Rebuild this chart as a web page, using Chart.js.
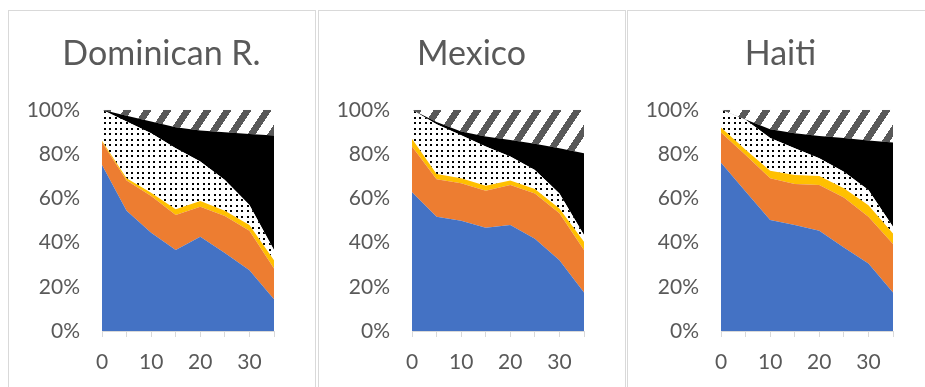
<!DOCTYPE html>
<html>
<head>
<meta charset="utf-8">
<script src="https://cdn.jsdelivr.net/npm/chart.js@4"></script>
<style>
  html, body { margin: 0; padding: 0; background: #fff; overflow: hidden; }
  body { width: 925px; height: 387px; position: relative; }
  .panel {
    position: absolute;
    top: 10px;
    width: 306px;
    height: 400px;
    border: 1px solid #d9d9d9;
    box-sizing: content-box;
  }
  .panel canvas { position: absolute; left: 0; top: 0; }
</style>
</head>
<body>
<div class="panel" style="left:8px"><canvas id="chart-dr" width="305" height="376"></canvas></div>
<div class="panel" style="left:318px"><canvas id="chart-mx" width="305" height="376"></canvas></div>
<div class="panel" style="left:627px"><canvas id="chart-ht" width="305" height="376"></canvas></div>

<script>
// x positions (years) shared by all three panels
const xValues = [0, 5, 10, 15, 20, 25, 30, 35];
const yTicks = [0, 20, 40, 60, 80, 100];

// Dominican R. - share of each group (%)
const drBlue   = [75.0, 54.4, 44.4, 36.6, 42.6, 35.3, 27.5, 14.4];
const drOrange = [10.3, 13.6, 16.6, 15.8, 13.6, 16.7, 17.8, 13.8];
const drYellow = [0.7, 1.0, 1.5, 2.6, 2.6, 2.4, 2.6, 3.8];
const drDots   = [14.0, 25.7, 26.9, 27.6, 17.8, 13.9, 9.1, 4.6];
const drBlack  = [0, 2.6, 5.3, 9.5, 14.0, 21.6, 32.1, 51.8];
const drHatch  = [0, 2.7, 5.3, 7.9, 9.4, 10.1, 10.9, 11.6];

// Mexico
const mxBlue   = [62.7, 51.7, 49.8, 46.7, 47.9, 41.7, 32.0, 17.4];
const mxOrange = [20.7, 16.9, 17.0, 16.7, 18.1, 20.5, 21.2, 19.2];
const mxYellow = [3.5, 2.4, 2.2, 2.3, 2.0, 2.0, 2.2, 3.7];
const mxDots   = [13.1, 22.5, 19.5, 17.7, 10.9, 8.6, 6.8, 3.1];
const mxBlack  = [0, 1.0, 1.7, 4.5, 7.5, 11.8, 20.4, 37.0];
const mxHatch  = [0, 5.5, 9.8, 12.1, 13.6, 15.4, 17.4, 19.6];

// Haiti
const htBlue   = [76.1, 63.1, 50.2, 47.9, 45.3, 37.8, 30.5, 17.4];
const htOrange = [13.6, 16.5, 18.8, 18.6, 20.7, 22.6, 21.2, 21.9];
const htYellow = [2.3, 2.3, 3.5, 4.0, 4.1, 4.1, 5.2, 4.8];
const htDots   = [8.0, 13.6, 14.7, 12.1, 8.0, 7.5, 6.8, 3.0];
const htBlack  = [0, 0.1, 4.0, 6.8, 10.1, 15.2, 22.4, 38.1];
const htHatch  = [0, 4.4, 8.8, 10.6, 11.8, 12.8, 13.9, 14.8];

const TEXT_COLOR = '#595959';
const FONT = 'Lato, "Open Sans", sans-serif';

// Small black dots on white
function makeDotPattern() {
  const c = document.createElement('canvas');
  c.width = 11;
  c.height = 11;
  const g = c.getContext('2d');
  g.fillStyle = '#fff';
  g.fillRect(0, 0, 11, 11);
  g.fillStyle = '#000';
  [[1, 1], [7, 1], [1, 7], [7, 7]].forEach(p => g.fillRect(p[0], p[1], 2, 2));
  return g.createPattern(c, 'repeat');
}

// Wide upward diagonal stripes, gray on white
function makeHatchPattern() {
  const w = 20, h = 30;
  const c = document.createElement('canvas');
  c.width = w;
  c.height = h;
  const g = c.getContext('2d');
  const img = g.createImageData(w, h);
  for (let y = 0; y < h; y++) {
    for (let x = 0; x < w; x++) {
      const u = ((x + y / 1.5) % w + w) % w;
      const v = u < 8 ? 0x59 : 0xff;
      const i = (y * w + x) * 4;
      img.data[i] = v;
      img.data[i + 1] = v;
      img.data[i + 2] = v;
      img.data[i + 3] = 255;
    }
  }
  g.putImageData(img, 0, 0);
  return g.createPattern(c, 'repeat');
}

function toPoints(values) {
  return values.map((v, i) => ({ x: xValues[i], y: v }));
}

function buildChart(id, title, series) {
  const dots = makeDotPattern();
  const hatch = makeHatchPattern();
  const colors = ['#4472C4', '#ED7D31', '#FFC000', dots, '#000000', hatch];

  const datasets = series.map((values, i) => ({
    data: toPoints(values),
    backgroundColor: colors[i],
    borderColor: 'rgba(0,0,0,0)',
    borderWidth: 0,
    pointRadius: 0,
    tension: 0,
    fill: i === 0 ? 'origin' : '-1'
  }));

  new Chart(document.getElementById(id), {
    type: 'line',
    data: { datasets: datasets },
    options: {
      responsive: false,
      animation: false,
      layout: { padding: 0 },
      plugins: {
        legend: { display: false },
        tooltip: { enabled: false },
        title: {
          display: true,
          text: title,
          color: TEXT_COLOR,
          font: { family: FONT, size: 34, weight: 'normal', lineHeight: 1.2 },
          padding: { top: 23, bottom: 35 }
        }
      },
      scales: {
        x: {
          type: 'linear',
          min: 0,
          max: 35,
          grid: {
            display: true,
            drawOnChartArea: false,
            drawTicks: true,
            tickLength: 6,
            color: '#d9d9d9'
          },
          border: { display: true, color: '#d9d9d9' },
          ticks: {
            stepSize: 5,
            autoSkip: false,
            maxRotation: 0,
            padding: 13,
            color: TEXT_COLOR,
            font: { family: FONT, size: 21 },
            callback: v => (v % 10 === 0 ? v : '')
          },
          afterFit: scale => { scale.height = 56; }
        },
        y: {
          stacked: true,
          min: 0,
          max: 100,
          grid: { display: false, drawTicks: false },
          border: { display: false },
          afterBuildTicks: scale => {
            scale.ticks = yTicks.map(v => ({ value: v }));
          },
          ticks: {
            padding: 22,
            color: TEXT_COLOR,
            font: { family: FONT, size: 21 },
            callback: v => v + '%'
          },
          afterFit: scale => { scale.width = 93; }
        },
        // empty axis on the right keeps the title centred on the panel
        yRight: {
          position: 'right',
          display: true,
          grid: { display: false, drawTicks: false },
          border: { display: false },
          ticks: { display: false },
          afterFit: scale => { scale.width = 40; }
        }
      }
    }
  });
}

buildChart('chart-dr', 'Dominican R.', [drBlue, drOrange, drYellow, drDots, drBlack, drHatch]);
buildChart('chart-mx', 'Mexico', [mxBlue, mxOrange, mxYellow, mxDots, mxBlack, mxHatch]);
buildChart('chart-ht', 'Haiti', [htBlue, htOrange, htYellow, htDots, htBlack, htHatch]);
</script>
</body>
</html>
